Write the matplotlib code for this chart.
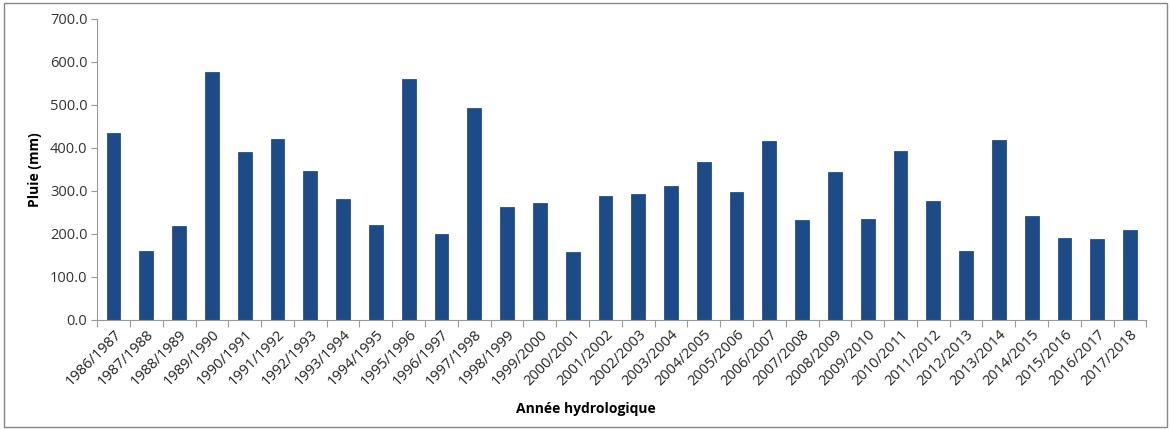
import matplotlib
matplotlib.use("Agg")
import matplotlib.pyplot as plt
from matplotlib.patches import Rectangle
import numpy as np

# Hydrological years and rainfall (mm)
years = [f"{y}/{y + 1}" for y in range(1986, 2018)]
rain = [434, 160, 218, 577, 391, 420, 346, 281, 221, 560, 199, 494, 262, 271,
        159, 288, 293, 312, 367, 298, 417, 233, 344, 235, 394, 276, 160, 419,
        241, 191, 189, 208]
y_ticks = [0, 100, 200, 300, 400, 500, 600, 700]

plt.rcParams["font.family"] = ["Open Sans", "DejaVu Sans"]

fig = plt.figure(figsize=(11.71, 4.30), dpi=100)
ax = fig.add_axes([0.083, 0.256, 0.896, 0.70])

x = np.arange(len(years))
ax.bar(x, rain, width=0.42, color="#1d4b88", edgecolor="#193f6e", linewidth=0.5)

ax.set_xlim(-0.5, len(years) - 0.5)
ax.set_ylim(0, 700)
ax.set_yticks(y_ticks)
ax.set_yticklabels([f"{v:.1f}" for v in y_ticks], fontsize=10.5, color="#333333")

# ticks between categories, labels at centres
ax.set_xticks(np.arange(len(years) + 1) - 0.5)
ax.set_xticklabels([])
ax.set_xticks(x, minor=True)
ax.set_xticklabels(years, minor=True, rotation=45, ha="right",
                   rotation_mode="anchor", fontsize=10.5, color="#222222")
ax.tick_params(axis="x", which="minor", length=0, pad=5)
ax.tick_params(axis="x", which="major", length=5, color="#999999")
ax.tick_params(axis="y", length=4, color="#999999", pad=3)

for side in ("top", "right"):
    ax.spines[side].set_visible(False)
for side in ("left", "bottom"):
    ax.spines[side].set_color("#999999")

ax.set_ylabel("Pluie (mm)", fontsize=10, fontweight="bold", labelpad=6)
fig.text(0.5, 0.048, "Année hydrologique", ha="center", va="center",
         fontsize=10, fontweight="bold")

fig.patches.append(Rectangle((0.003, 0.006), 0.994, 0.988, transform=fig.transFigure,
                             fill=False, edgecolor="#888888", linewidth=1))

fig.savefig("out.png", dpi=100, facecolor="white")
